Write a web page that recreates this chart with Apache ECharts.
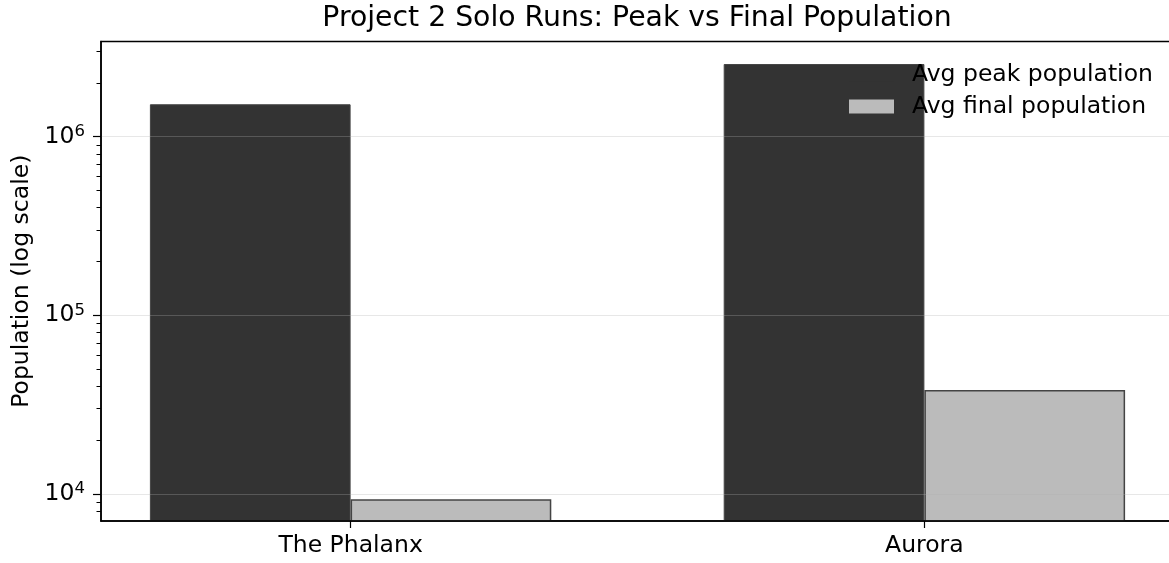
<!DOCTYPE html>
<html>
<head>
<meta charset="utf-8">
<script src="https://cdn.jsdelivr.net/npm/echarts@6/dist/echarts.min.js"></script>
<style>
  html, body { margin: 0; padding: 0; background: #ffffff; }
  #chart { width: 1169px; height: 563px; }
</style>
</head>
<body>
<div id="chart"></div>
<script>
// Solo-run population summary
const categories = ['The Phalanx', 'Aurora'];
const peakPopulation = [1517000, 2547000];
const finalPopulation = [9340, 38200];
const seriesNames = ['Avg peak population', 'Avg final population'];

// Log-axis tick marks
const majorTicks = [10000, 100000, 1000000];
const minorTicks = [8000, 9000,
  20000, 30000, 40000, 50000, 60000, 70000, 80000, 90000,
  200000, 300000, 400000, 500000, 600000, 700000, 800000, 900000,
  2000000, 3000000];

const FONT = 'DejaVu Sans';
const FS = 23.5;
const Y_MIN = 7063;
const Y_MAX = 3405000;
const X_MIN = -0.435;
const X_MAX = 1.435;
const BAR_W = 200.7;

const chart = echarts.init(document.getElementById('chart'), null, { renderer: 'canvas' });

const toPairs = (vals) => vals.map((v, i) => [i, v]);

chart.setOption({
  animation: false,
  backgroundColor: '#ffffff',
  title: {
    text: 'Project 2 Solo Runs: Peak vs Final Population',
    left: 637,
    textAlign: 'center',
    top: 5,
    padding: 0,
    textStyle: { fontFamily: FONT, fontSize: 28.3, fontWeight: 'normal', color: '#000000' }
  },
  legend: {
    orient: 'vertical',
    left: 849,
    top: 62.5,
    padding: 0,
    itemWidth: 45,
    itemHeight: 14,
    itemGap: 8,
    icon: 'rect',
    textStyle: { fontFamily: FONT, fontSize: FS, lineHeight: 24, color: '#000000', padding: [0, 0, 0, 13] },
    data: [
      { name: seriesNames[0], itemStyle: { color: '#333333', borderWidth: 0 } },
      { name: seriesNames[1], itemStyle: { color: '#bbbbbb', borderWidth: 0 } }
    ]
  },
  grid: {
    left: 101,
    width: 1073,
    top: 41.5,
    bottom: 42,
    show: true,
    borderColor: '#000000',
    borderWidth: 1.5,
    containLabel: false,
    outerBoundsMode: 'none'
  },
  xAxis: {
    type: 'value',
    min: X_MIN,
    max: X_MAX,
    z: 5,
    axisLine: { show: true, onZero: false, lineStyle: { color: '#000000', width: 1.5 } },
    axisTick: { show: true, customValues: [0, 1], length: 7, lineStyle: { color: '#000000', width: 1.2 } },
    axisLabel: {
      customValues: [0, 1],
      margin: 13,
      fontFamily: FONT,
      fontSize: FS,
      color: '#000000',
      formatter: (v) => categories[Math.round(v)]
    },
    splitLine: { show: false }
  },
  yAxis: [
    {
      type: 'log',
      logBase: 10,
      min: Y_MIN,
      max: Y_MAX,
      position: 'left',
      z: 5,
      name: 'Population (log scale)',
      nameLocation: 'middle',
      nameRotate: 90,
      nameGap: 67,
      nameTextStyle: { fontFamily: FONT, fontSize: FS, color: '#000000' },
      axisLine: { show: true, onZero: false, lineStyle: { color: '#000000', width: 1.5 } },
      axisTick: { show: true, customValues: majorTicks, length: 8, lineStyle: { color: '#000000', width: 1.2 } },
      axisLabel: {
        customValues: majorTicks,
        margin: 16,
        formatter: (v) => '{b|10}{sup|' + Math.round(Math.log10(v)) + '}',
        rich: {
          b: { fontFamily: FONT, fontSize: FS, lineHeight: 27, color: '#000000' },
          sup: { fontFamily: FONT, fontSize: 16.5, lineHeight: 14, verticalAlign: 'top', color: '#000000' }
        }
      },
      splitLine: { show: true, lineStyle: { color: 'rgba(176,176,176,0.3)', width: 1.2 } }
    },
    {
      type: 'log',
      logBase: 10,
      min: Y_MIN,
      max: Y_MAX,
      position: 'left',
      z: 5,
      axisLine: { show: false, onZero: false },
      axisTick: { show: true, customValues: minorTicks, length: 4.5, lineStyle: { color: '#000000', width: 1 } },
      axisLabel: { show: false },
      splitLine: { show: false }
    }
  ],
  series: [
    {
      name: seriesNames[0],
      type: 'bar',
      yAxisIndex: 0,
      barWidth: BAR_W,
      barGap: '0%',
      clip: true,
      itemStyle: { color: '#333333', borderColor: '#444444', borderWidth: 1 },
      data: toPairs(peakPopulation)
    },
    {
      name: seriesNames[1],
      type: 'bar',
      yAxisIndex: 0,
      barWidth: BAR_W,
      barGap: '0%',
      clip: true,
      itemStyle: { color: '#bbbbbb', borderColor: '#444444', borderWidth: 1.5 },
      data: toPairs(finalPopulation)
    }
  ]
});
</script>
</body>
</html>
